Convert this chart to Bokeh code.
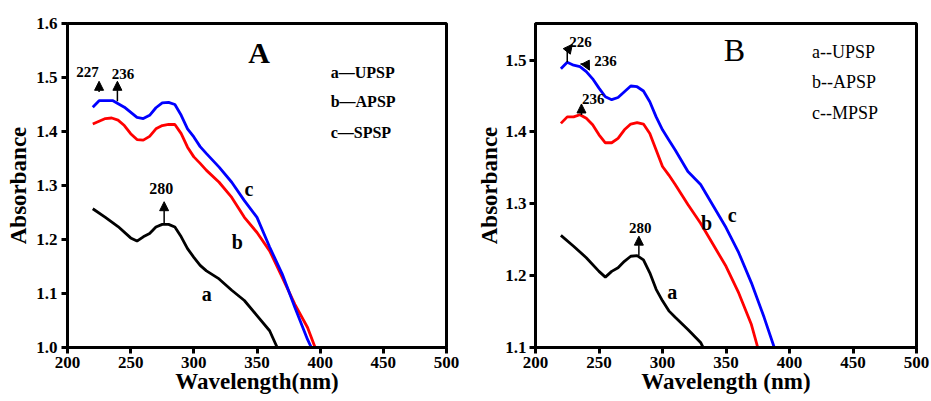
from bokeh.plotting import figure
from bokeh.layouts import row
from bokeh.models import Range1d, Label, Arrow, NormalHead, FixedTicker, CustomJSTickFormatter
from bokeh.embed import file_html
from bokeh.resources import INLINE

# ---------------- data: panel A ----------------
wl_A_c = [220, 225, 236, 245, 255, 260, 265, 270, 275, 280, 285, 290, 295, 300, 305, 310,
          320, 330, 340, 350, 360, 370, 380, 390, 393]
abs_A_c = [1.445, 1.457, 1.457, 1.445, 1.426, 1.424, 1.430, 1.444, 1.453, 1.454, 1.450, 1.430,
           1.405, 1.390, 1.372, 1.359, 1.334, 1.306, 1.272, 1.241, 1.186, 1.136, 1.074, 1.015, 1.0]
wl_A_b = [220, 230, 235, 240, 245, 250, 255, 260, 265, 270, 275, 280, 285, 290, 295, 300, 305,
          310, 320, 330, 340, 350, 360, 370, 380, 390, 396]
abs_A_b = [1.414, 1.424, 1.425, 1.421, 1.411, 1.396, 1.385, 1.384, 1.391, 1.405, 1.411, 1.413,
           1.413, 1.396, 1.371, 1.353, 1.341, 1.328, 1.306, 1.278, 1.241, 1.213, 1.179, 1.130,
           1.080, 1.037, 1.0]
wl_A_a = [220, 230, 240, 250, 255, 260, 265, 270, 275, 280, 285, 290, 295, 300, 305, 310, 320,
          330, 340, 350, 360, 366]
abs_A_a = [1.257, 1.241, 1.224, 1.203, 1.197, 1.205, 1.211, 1.223, 1.228, 1.228, 1.223, 1.205,
           1.183, 1.167, 1.152, 1.142, 1.127, 1.106, 1.087, 1.059, 1.031, 1.0]

# ---------------- data: panel B ----------------
wl_B_c = [220, 225, 230, 235, 240, 245, 250, 255, 260, 265, 270, 275, 280, 285, 290, 295, 300,
          305, 310, 320, 330, 340, 350, 360, 370, 380, 388]
abs_B_c = [1.488, 1.497, 1.493, 1.491, 1.484, 1.474, 1.461, 1.449, 1.445, 1.448, 1.456, 1.464,
           1.463, 1.457, 1.442, 1.421, 1.403, 1.389, 1.375, 1.345, 1.327, 1.297, 1.267, 1.232,
           1.190, 1.142, 1.1]
wl_B_b = [220, 225, 230, 235, 240, 245, 250, 255, 260, 265, 270, 275, 280, 285, 290, 295, 300,
          305, 310, 320, 330, 340, 350, 360, 370, 375]
abs_B_b = [1.412, 1.421, 1.421, 1.424, 1.419, 1.410, 1.396, 1.385, 1.385, 1.391, 1.403, 1.411,
           1.413, 1.411, 1.398, 1.375, 1.352, 1.340, 1.327, 1.299, 1.273, 1.243, 1.213, 1.176,
           1.132, 1.1]
wl_B_a = [220, 230, 240, 250, 255, 260, 265, 270, 275, 280, 285, 290, 295, 300, 305, 310, 320,
          330, 332]
abs_B_a = [1.256, 1.241, 1.225, 1.206, 1.198, 1.206, 1.211, 1.220, 1.227, 1.228, 1.222, 1.204,
           1.181, 1.165, 1.151, 1.142, 1.125, 1.107, 1.1]

x_ticks = [200, 250, 300, 350, 400, 450, 500]
y_ticks_A = [1.0, 1.1, 1.2, 1.3, 1.4, 1.5, 1.6]
y_ticks_B = [1.1, 1.2, 1.3, 1.4, 1.5]
legend_A = ["a\u2014UPSP", "b\u2014APSP", "c\u2014SPSP"]
legend_B = ["a--UPSP", "b--APSP", "c--MPSP"]

FONT = "Liberation Serif"
LW = 2.8


def make_fig(width, height, ylo, yhi, yticks, xlabel, bl, br, bt, bb):
    p = figure(width=width, height=height, output_backend="svg", toolbar_location=None,
               x_range=Range1d(200, 500), y_range=Range1d(ylo, yhi),
               min_border_left=bl, min_border_right=br, min_border_top=bt, min_border_bottom=bb)
    p.grid.visible = False
    p.outline_line_color = "black"
    p.outline_line_width = 3
    p.outline_line_alpha = 1
    p.xaxis.ticker = FixedTicker(ticks=x_ticks)
    p.yaxis.ticker = FixedTicker(ticks=yticks)
    p.yaxis.formatter = CustomJSTickFormatter(code="return tick.toFixed(1);")
    for ax in (p.xaxis, p.yaxis):
        ax.axis_line_width = 3
        ax.major_tick_line_width = 3
        ax.major_tick_out = 6
        ax.major_tick_in = 0
        ax.minor_tick_line_color = None
        ax.major_label_text_font = FONT
        ax.major_label_text_font_style = "bold"
        ax.major_label_text_font_size = "17px"
        ax.major_label_text_color = "black"
        ax.axis_label_text_font = FONT
        ax.axis_label_text_font_style = "bold"
        ax.axis_label_text_font_size = "23px"
        ax.axis_label_text_color = "black"
    p.xaxis.axis_label = xlabel
    p.yaxis.axis_label = "Absorbance"
    p.xaxis.major_label_standoff = 3
    p.xaxis.axis_label_standoff = -2
    return p


def txt(p, x, y, s, size, bold=True, align="center"):
    p.add_layout(Label(x=x, y=y, text=s, text_font=FONT, text_font_size=size,
                       text_font_style="bold" if bold else "normal", text_align=align,
                       text_baseline="middle", text_color="black"))


def arr(p, x0, y0, x1, y1, head=True):
    end = NormalHead(size=9, fill_color="black", line_color="black") if head else None
    p.add_layout(Arrow(end=end, x_start=x0, y_start=y0, x_end=x1, y_end=y1,
                       line_width=1.5, line_color="black"))


# ---------------- panel A ----------------
pA = make_fig(465, 400, 1.0, 1.6, y_ticks_A, "Wavelength(nm)", 67, 19, 23, 53)
pA.yaxis.major_label_standoff = 4
pA.yaxis.axis_label_standoff = 2
pA.line(wl_A_a, abs_A_a, line_color="black", line_width=LW)
pA.line(wl_A_b, abs_A_b, line_color="red", line_width=LW)
pA.line(wl_A_c, abs_A_c, line_color="blue", line_width=LW)
txt(pA, 351.6, 1.547, "A", "30px")
for i, s in enumerate(legend_A):
    txt(pA, 408.3, [1.510, 1.455, 1.399][i], s, "16px", align="left")
txt(pA, 215.8, 1.510, "227", "15px")
txt(pA, 244.0, 1.507, "236", "15px")
arr(pA, 225.0, 1.473, 225.0, 1.493)
arr(pA, 239.5, 1.456, 239.5, 1.493)
txt(pA, 274.3, 1.294, "280", "16px")
arr(pA, 276.5, 1.229, 276.5, 1.270)
txt(pA, 343.7, 1.294, "c", "20px")
txt(pA, 334.5, 1.195, "b", "20px")
txt(pA, 310.2, 1.100, "a", "20px")

# ---------------- panel B ----------------
pB = make_fig(465, 400, 1.1, 1.551, y_ticks_B, "Wavelength (nm)", 70, 14, 23, 52)
pB.yaxis.major_label_standoff = 3
pB.yaxis.axis_label_standoff = 0
pB.line(wl_B_a, abs_B_a, line_color="black", line_width=LW)
pB.line(wl_B_b, abs_B_b, line_color="red", line_width=LW)
pB.line(wl_B_c, abs_B_c, line_color="blue", line_width=LW)
txt(pB, 356.7, 1.514, "B", "32px", bold=False)
for i, s in enumerate(legend_B):
    txt(pB, 417.8, [1.512, 1.470, 1.426][i], s, "18px", bold=False, align="left")
txt(pB, 235.4, 1.525, "226", "15px")
arr(pB, 225.0, 1.497, 225.0, 1.513, head=False)
arr(pB, 225.0, 1.513, 229.0, 1.522)
txt(pB, 255.1, 1.4986, "236", "15px")
arr(pB, 235.4, 1.4945, 240.0, 1.4945, head=False)
arr(pB, 240.0, 1.4945, 242.5, 1.486)
txt(pB, 245.4, 1.4454, "236", "15px")
arr(pB, 236.2, 1.4237, 236.2, 1.439)
txt(pB, 282.4, 1.2665, "280", "15px")
arr(pB, 281.4, 1.228, 281.4, 1.255)
txt(pB, 354.9, 1.285, "c", "20px")
txt(pB, 334.6, 1.273, "b", "20px")
txt(pB, 307.6, 1.177, "a", "20px")

layout = row(pA, pB)
open("out.html", "w").write(file_html(layout, INLINE))
